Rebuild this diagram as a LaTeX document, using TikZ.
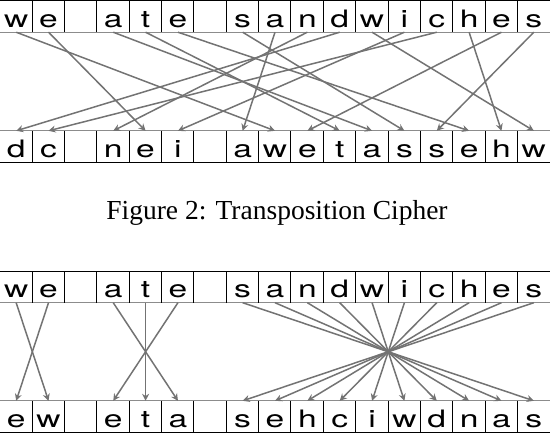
\documentclass[tikz,border=0pt]{standalone}
\usepackage{fontspec}
\setmainfont{Liberation Serif}
\newfontfamily\cellfont[FakeStretch=1.4]{TeX Gyre Heros}
\usetikzlibrary{arrows.meta}
\definecolor{arrowgray}{RGB}{115,115,115}
\definecolor{rulegray}{RGB}{140,140,140}
\def\cw{32.353}

\begin{document}
\begin{tikzpicture}[x=1pt,y=-1pt,
  cell/.style={minimum width=\cw pt,inner sep=0pt,text height=26pt,text depth=5pt,
    font=\cellfont\fontsize{24}{24}\selectfont},
  outer/.style={draw=black,line width=1pt},
  inner/.style={draw=rulegray,line width=1pt},
  perm/.style={draw=arrowgray,line width=1.5pt,-{Stealth[length=7pt,width=7pt]}}]
  \useasboundingbox (0,0) rectangle (550,432);
  % Zeilen: Klartext oben, Geheimtext unten
  \foreach \ch [count=\i from 0] in {w,e,{},a,t,e,{},s,a,n,d,w,i,c,h,e,s}{
    \node[cell] (plainA\i) at ({(\i+0.5)*\cw},16.5) {\ch};
    \node[cell] (plainB\i) at ({(\i+0.5)*\cw},287) {\ch};
  }
  \foreach \ch [count=\i from 0] in {d,c,{},n,e,i,{},a,w,e,t,a,s,s,e,h,w}
    \node[cell] (transA\i) at ({(\i+0.5)*\cw},146.5) {\ch};
  \foreach \ch [count=\i from 0] in {e,w,{},e,t,a,{},s,e,h,c,i,w,d,n,a,s}
    \node[cell] (transB\i) at ({(\i+0.5)*\cw},416.5) {\ch};
  % Linien der Zellen
  \foreach \row/\first/\second in {plainA/outer/inner,transA/inner/outer,plainB/outer/inner,transB/inner/outer}{
    \draw[\first] (\row0.north west) -- (\row16.north east);
    \draw[\second] (\row0.south west) -- (\row16.south east);
    \foreach \i in {1,...,16}
      \draw[outer] (\row\i.north west) -- (\row\i.south west);
  }
  % Transposition
  \foreach \s/\t in {0/8,1/4,3/11,4/10,5/14,7/12,8/7,9/3,10/0,11/16,12/5,13/1,14/15,15/9,16/13}
    \draw[perm] (plainA\s.south) -- (transA\t.north);
  % Wortweise Umkehrung
  \foreach \s/\t in {0/1,1/0,3/5,4/4,5/3}
    \draw[perm] (plainB\s.south) -- (transB\t.north);
  \foreach \s in {7,...,16}{
    \pgfmathtruncatemacro{\t}{23-\s}
    \draw[perm] (plainB\s.south) -- (transB\t.north);
  }
  \node[font=\fontsize{27.5}{27.5}\selectfont] (caption) at (277,213) {Figure 2: Transposition Cipher};
\end{tikzpicture}
\end{document}
